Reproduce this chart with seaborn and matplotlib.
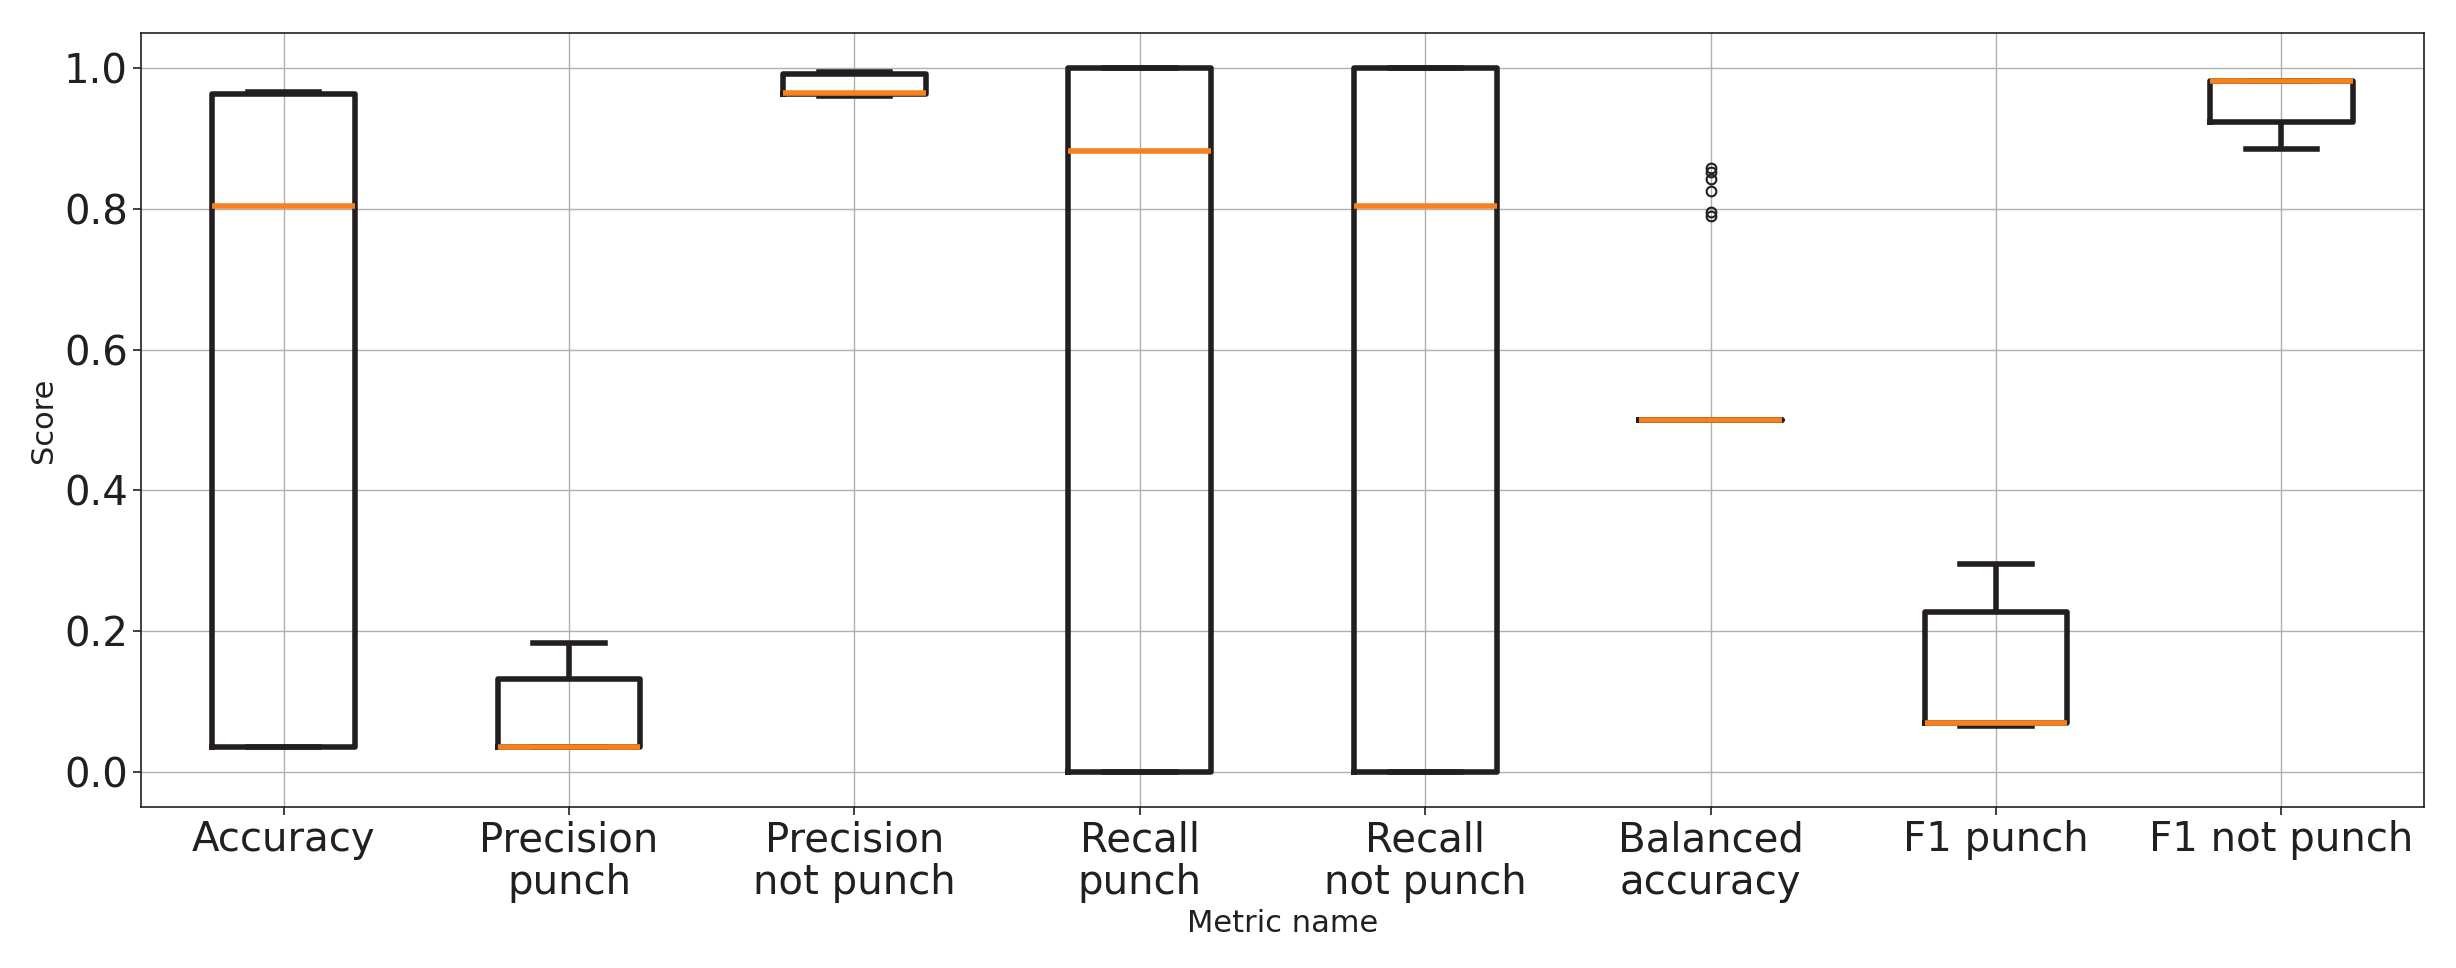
import numpy as np
import pandas as pd
import matplotlib
matplotlib.use('Agg')
import matplotlib.pyplot as plt
import seaborn as sns

# metric names (tick labels) and the per-metric scores
metrics = ['Accuracy', 'Precision\npunch', 'Precision\nnot punch', 'Recall\npunch',
           'Recall\nnot punch', 'Balanced\naccuracy', 'F1 punch', 'F1 not punch']

accuracy = [0.036, 0.036, 0.804, 0.963, 0.966]
precision_punch = [0.036, 0.036, 0.036, 0.132, 0.183]
precision_not_punch = [0.960, 0.963, 0.964, 0.992, 0.995]
recall_punch = [0.0, 0.0, 0.882, 1.0, 1.0]
recall_not_punch = [0.0, 0.0, 0.804, 1.0, 1.0]
balanced_accuracy = [0.5] * 30 + [0.790, 0.795, 0.826, 0.843, 0.852, 0.858]
f1_punch = [0.065, 0.069, 0.070, 0.227, 0.296]
f1_not_punch = [0.885, 0.923, 0.981, 0.981, 0.981]

scores = [accuracy, precision_punch, precision_not_punch, recall_punch,
          recall_not_punch, balanced_accuracy, f1_punch, f1_not_punch]

df = pd.DataFrame({
    'metric': np.repeat(metrics, [len(s) for s in scores]),
    'score': np.concatenate(scores),
})

dark = '#231f20'
orange = '#f5821f'

plt.rcParams['font.family'] = ['DejaVu Sans']
fig, ax = plt.subplots(figsize=(24.56, 9.68), dpi=100)

sns.boxplot(data=df, x='metric', y='score', order=metrics, ax=ax,
            fill=False, color=dark, linewidth=4, width=0.5, whis=1.5,
            medianprops=dict(color=orange, linewidth=4, zorder=5),
            flierprops=dict(marker='o', markersize=7, markerfacecolor='none',
                            markeredgecolor=dark, markeredgewidth=1.5))

ax.set_ylim(-0.05, 1.05)
ax.set_xlim(-0.5, 7.5)
ax.grid(True, color='#b0b0b0', linewidth=1)
ax.set_axisbelow(True)
for sp in ax.spines.values():
    sp.set_color(dark)
    sp.set_linewidth(1.2)

ax.tick_params(axis='both', labelsize=29, colors=dark, length=6, width=1.2)
for t in ax.get_xticklabels():
    t.set_linespacing(1.1)
ax.set_xlabel('Metric name', fontsize=22, color=dark)
ax.set_ylabel('Score', fontsize=22, color=dark)

fig.subplots_adjust(left=0.0574, right=0.987, top=0.966, bottom=0.1663)
fig.savefig('out.png', dpi=100, facecolor='white')
